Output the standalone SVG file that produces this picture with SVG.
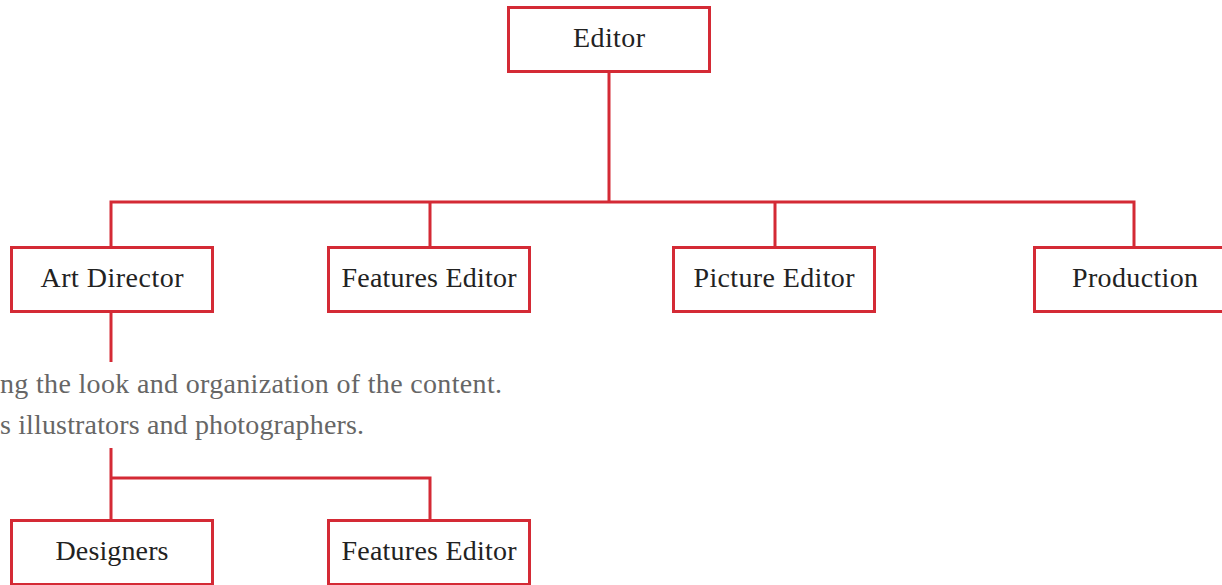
<svg xmlns="http://www.w3.org/2000/svg" width="1222" height="585" viewBox="0 0 1222 585">
<style>
.box{fill:#fff;stroke:#d42a35;stroke-width:3}
.lbl{font-family:"Liberation Serif","Times New Roman",serif;font-size:28px;fill:#222;text-anchor:middle}
.note{font-family:"Liberation Serif","Times New Roman",serif;font-size:28px;fill:#666;text-anchor:end}
.conn{fill:none;stroke:#d42a35;stroke-width:3}
</style>
<rect width="1222" height="585" fill="#fff"/>
<g id="connectors">
<path class="conn" d="M609 71V202M111 247V202H1134V247M430 202V247M775 202V247"/>
<path class="conn" d="M111 311V362"/>
<path class="conn" d="M111 448V520M111 478H430V520"/>
</g>
<g id="editor"><rect class="box" x="508.5" y="7.5" width="201" height="64"/><text class="lbl" x="609" y="47" textLength="72" lengthAdjust="spacing">Editor</text></g>
<g id="art-director"><rect class="box" x="11.5" y="247.5" width="201" height="64"/><text class="lbl" x="112" y="287" textLength="143" lengthAdjust="spacing">Art Director</text></g>
<g id="features-editor"><rect class="box" x="328.5" y="247.5" width="201" height="64"/><text class="lbl" x="429" y="287" textLength="175" lengthAdjust="spacing">Features Editor</text></g>
<g id="picture-editor"><rect class="box" x="673.5" y="247.5" width="201" height="64"/><text class="lbl" x="774" y="287" textLength="161" lengthAdjust="spacing">Picture Editor</text></g>
<g id="production"><rect class="box" x="1034.5" y="247.5" width="201" height="64"/><text class="lbl" x="1135" y="287" textLength="126" lengthAdjust="spacing">Production</text></g>
<g id="note"><text class="note" x="502" y="393" textLength="502" lengthAdjust="spacing">ng the look and organization of the content.</text><text class="note" x="364" y="434" textLength="364" lengthAdjust="spacing">s illustrators and photographers.</text></g>
<g id="designers"><rect class="box" x="11.5" y="520.5" width="201" height="64"/><text class="lbl" x="112" y="560" textLength="113" lengthAdjust="spacing">Designers</text></g>
<g id="features-editor-2"><rect class="box" x="328.5" y="520.5" width="201" height="64"/><text class="lbl" x="429" y="560" textLength="175" lengthAdjust="spacing">Features Editor</text></g>
</svg>
